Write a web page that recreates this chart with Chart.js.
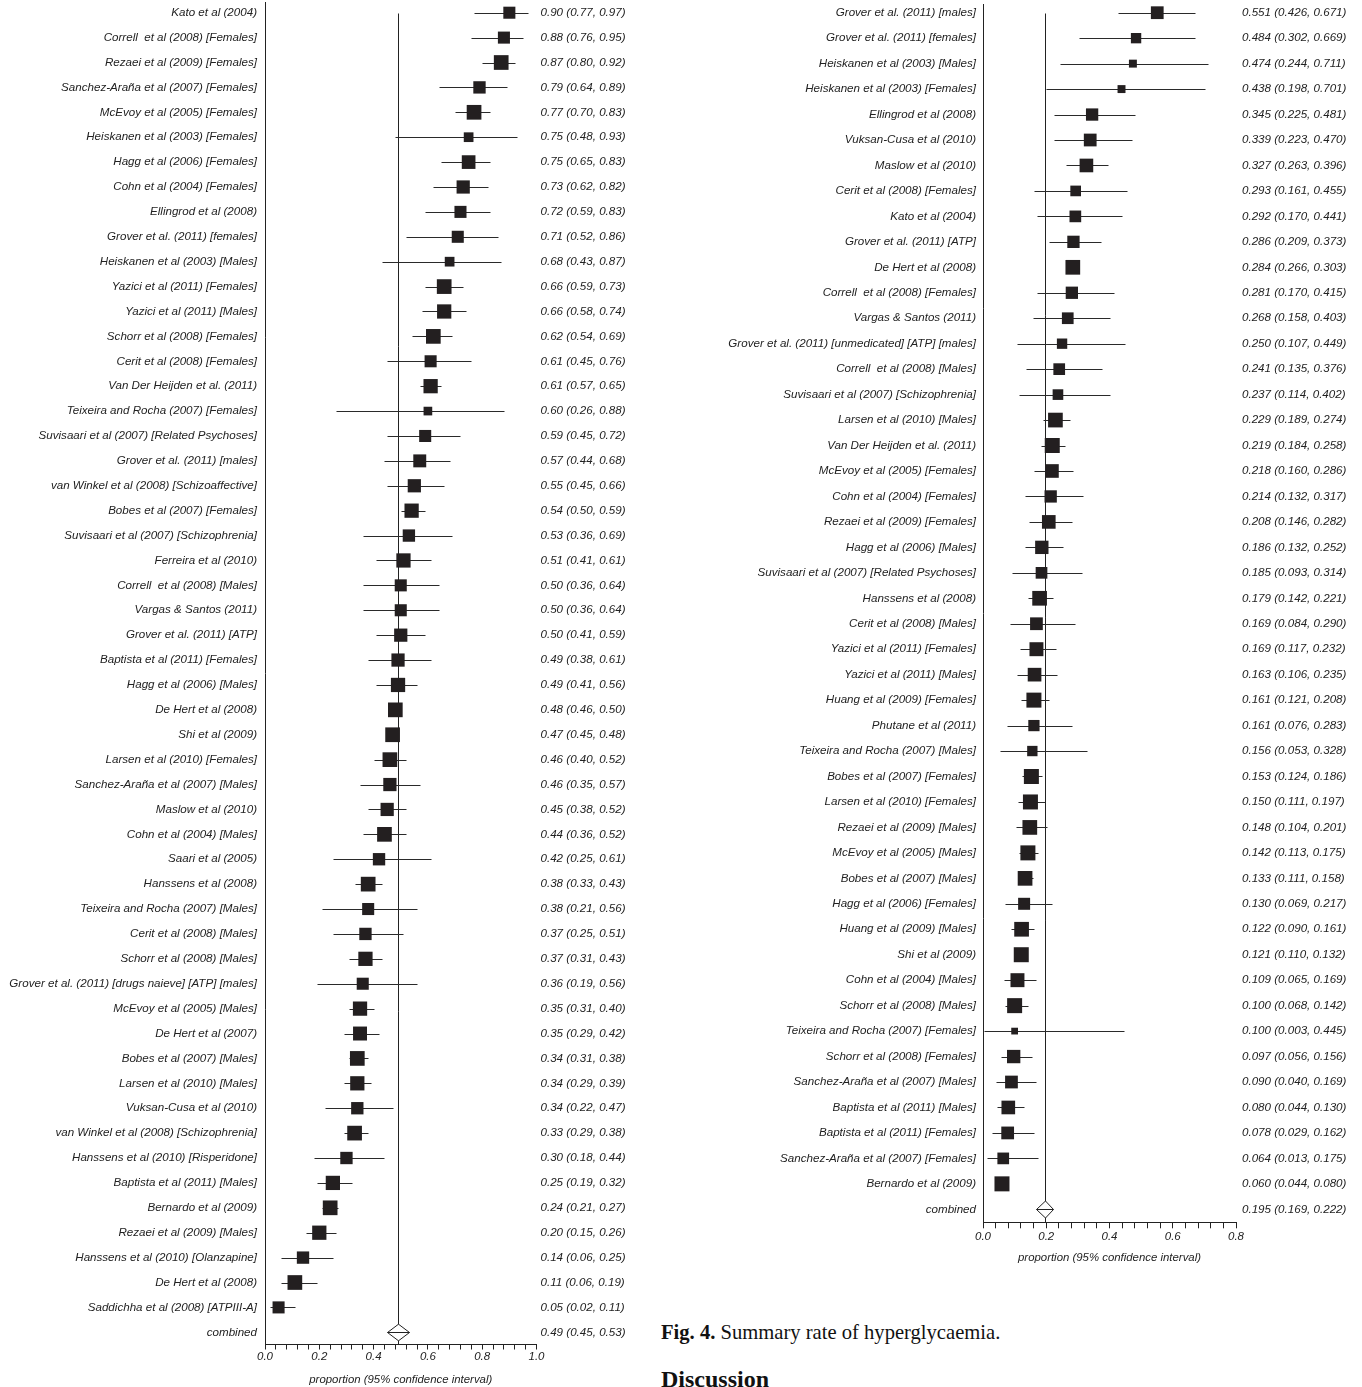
<!DOCTYPE html>
<html><head><meta charset="utf-8">
<script src="https://cdn.jsdelivr.net/npm/chart.js@4.4.0/dist/chart.umd.min.js"></script>
<style>
html,body{margin:0;padding:0;background:#fff;}
body{width:1362px;height:1387px;position:relative;overflow:hidden;}
canvas{position:absolute;top:0;}
#c1{left:0;width:655px;height:1387px;}
#c2{left:655px;width:707px;height:1265px;}
.cap{position:absolute;left:661px;font-family:'Liberation Serif','Times New Roman',serif;color:#111;white-space:nowrap;line-height:1;}
</style></head><body>
<canvas id="c1" width="655" height="1387"></canvas>
<canvas id="c2" width="707" height="1265"></canvas>
<div class="cap" style="top:1322px;font-size:20.6px"><b>Fig. 4.</b> Summary rate of hyperglycaemia.</div>
<div class="cap" style="top:1367px;font-size:24px;font-weight:bold">Discussion</div>
<script>
// ---------- LEFT PANEL DATA ----------
const leftLabels = [
 "Kato et al (2004)","Correll  et al (2008) [Females]","Rezaei et al (2009) [Females]","Sanchez-Araña et al (2007) [Females]",
 "McEvoy et al (2005) [Females]","Heiskanen et al (2003) [Females]","Hagg et al (2006) [Females]","Cohn et al (2004) [Females]",
 "Ellingrod et al (2008)","Grover et al. (2011) [females]","Heiskanen et al (2003) [Males]","Yazici et al (2011) [Females]",
 "Yazici et al (2011) [Males]","Schorr et al (2008) [Females]","Cerit et al (2008) [Females]","Van Der Heijden et al. (2011)",
 "Teixeira and Rocha (2007) [Females]","Suvisaari et al (2007) [Related Psychoses]","Grover et al. (2011) [males]",
 "van Winkel et al (2008) [Schizoaffective]","Bobes et al (2007) [Females]","Suvisaari et al (2007) [Schizophrenia]",
 "Ferreira et al (2010)","Correll  et al (2008) [Males]","Vargas & Santos (2011)","Grover et al. (2011) [ATP]",
 "Baptista et al (2011) [Females]","Hagg et al (2006) [Males]","De Hert et al (2008)","Shi et al (2009)",
 "Larsen et al (2010) [Females]","Sanchez-Araña et al (2007) [Males]","Maslow et al (2010)","Cohn et al (2004) [Males]",
 "Saari et al (2005)","Hanssens et al (2008)","Teixeira and Rocha (2007) [Males]","Cerit et al (2008) [Males]",
 "Schorr et al (2008) [Males]","Grover et al. (2011) [drugs naieve] [ATP] [males]","McEvoy et al (2005) [Males]",
 "De Hert et al (2007)","Bobes et al (2007) [Males]","Larsen et al (2010) [Males]","Vuksan-Cusa et al (2010)",
 "van Winkel et al (2008) [Schizophrenia]","Hanssens et al (2010) [Risperidone]","Baptista et al (2011) [Males]",
 "Bernardo et al (2009)","Rezaei et al (2009) [Males]","Hanssens et al (2010) [Olanzapine]","De Hert et al (2008)",
 "Saddichha et al (2008) [ATPIII-A]","combined"];
const leftEst = [0.90,0.88,0.87,0.79,0.77,0.75,0.75,0.73,0.72,0.71, 0.68,0.66,0.66,0.62,0.61,0.61,0.60,0.59,0.57,0.55,
 0.54,0.53,0.51,0.50,0.50,0.50,0.49,0.49,0.48,0.47, 0.46,0.46,0.45,0.44,0.42,0.38,0.38,0.37,0.37,0.36,
 0.35,0.35,0.34,0.34,0.34,0.33,0.30,0.25,0.24,0.20, 0.14,0.11,0.05,0.49];
const leftLo = [0.77,0.76,0.80,0.64,0.70,0.48,0.65,0.62,0.59,0.52, 0.43,0.59,0.58,0.54,0.45,0.57,0.26,0.45,0.44,0.45,
 0.50,0.36,0.41,0.36,0.36,0.41,0.38,0.41,0.46,0.45, 0.40,0.35,0.38,0.36,0.25,0.33,0.21,0.25,0.31,0.19,
 0.31,0.29,0.31,0.29,0.22,0.29,0.18,0.19,0.21,0.15, 0.06,0.06,0.02,0.45];
const leftHi = [0.97,0.95,0.92,0.89,0.83,0.93,0.83,0.82,0.83,0.86, 0.87,0.73,0.74,0.69,0.76,0.65,0.88,0.72,0.68,0.66,
 0.59,0.69,0.61,0.64,0.64,0.59,0.61,0.56,0.50,0.48, 0.52,0.57,0.52,0.52,0.61,0.43,0.56,0.51,0.43,0.56,
 0.40,0.42,0.38,0.39,0.47,0.38,0.44,0.32,0.27,0.26, 0.25,0.19,0.11,0.53];
// relative study weight (box size, 1 = largest box)
const leftWeight = [0.82,0.82,1,0.84,1,0.66,0.93,0.9,0.82,0.82, 0.66,1,0.97,1,0.82,0.97,0.59,0.82,0.88,0.9,
 0.97,0.84,0.97,0.82,0.82,0.9,0.9,0.97,1,1, 1,0.9,0.9,1,0.84,1,0.82,0.84,0.97,0.82,
 0.97,0.95,1,0.97,0.84,1,0.84,0.97,1,0.97, 0.84,1,0.82];
const leftTickLabels = ["0.0","0.2","0.4","0.6","0.8","1.0"];

// ---------- RIGHT PANEL DATA ----------
const rightLabels = [
 "Grover et al. (2011) [males]","Grover et al. (2011) [females]","Heiskanen et al (2003) [Males]","Heiskanen et al (2003) [Females]",
 "Ellingrod et al (2008)","Vuksan-Cusa et al (2010)","Maslow et al (2010)","Cerit et al (2008) [Females]","Kato et al (2004)",
 "Grover et al. (2011) [ATP]","De Hert et al (2008)","Correll  et al (2008) [Females]","Vargas & Santos (2011)",
 "Grover et al. (2011) [unmedicated] [ATP] [males]","Correll  et al (2008) [Males]","Suvisaari et al (2007) [Schizophrenia]",
 "Larsen et al (2010) [Males]","Van Der Heijden et al. (2011)","McEvoy et al (2005) [Females]","Cohn et al (2004) [Females]",
 "Rezaei et al (2009) [Females]","Hagg et al (2006) [Males]","Suvisaari et al (2007) [Related Psychoses]","Hanssens et al (2008)",
 "Cerit et al (2008) [Males]","Yazici et al (2011) [Females]","Yazici et al (2011) [Males]","Huang et al (2009) [Females]",
 "Phutane et al (2011)","Teixeira and Rocha (2007) [Males]","Bobes et al (2007) [Females]","Larsen et al (2010) [Females]",
 "Rezaei et al (2009) [Males]","McEvoy et al (2005) [Males]","Bobes et al (2007) [Males]","Hagg et al (2006) [Females]",
 "Huang et al (2009) [Males]","Shi et al (2009)","Cohn et al (2004) [Males]","Schorr et al (2008) [Males]",
 "Teixeira and Rocha (2007) [Females]","Schorr et al (2008) [Females]","Sanchez-Araña et al (2007) [Males]",
 "Baptista et al (2011) [Males]","Baptista et al (2011) [Females]","Sanchez-Araña et al (2007) [Females]",
 "Bernardo et al (2009)","combined"];
const rightEst = [0.551,0.484,0.474,0.438,0.345,0.339,0.327,0.293,0.292,0.286, 0.284,0.281,0.268,0.250,0.241,0.237,0.229,0.219,0.218,0.214,
 0.208,0.186,0.185,0.179,0.169,0.169,0.163,0.161,0.161,0.156, 0.153,0.150,0.148,0.142,0.133,0.130,0.122,0.121,0.109,0.100,
 0.100,0.097,0.090,0.080,0.078,0.064,0.060,0.195];
const rightLo = [0.426,0.302,0.244,0.198,0.225,0.223,0.263,0.161,0.170,0.209, 0.266,0.170,0.158,0.107,0.135,0.114,0.189,0.184,0.160,0.132,
 0.146,0.132,0.093,0.142,0.084,0.117,0.106,0.121,0.076,0.053, 0.124,0.111,0.104,0.113,0.111,0.069,0.090,0.110,0.065,0.068,
 0.003,0.056,0.040,0.044,0.029,0.013,0.044,0.169];
const rightHi = [0.671,0.669,0.711,0.701,0.481,0.470,0.396,0.455,0.441,0.373, 0.303,0.415,0.403,0.449,0.376,0.402,0.274,0.258,0.286,0.317,
 0.282,0.252,0.314,0.221,0.290,0.232,0.235,0.208,0.283,0.328, 0.186,0.197,0.201,0.175,0.158,0.217,0.161,0.132,0.169,0.142,
 0.445,0.156,0.169,0.130,0.162,0.175,0.080,0.222];
const rightWeight = [0.85,0.69,0.53,0.53,0.82,0.85,0.91,0.71,0.78,0.82, 0.98,0.82,0.78,0.69,0.78,0.71,0.98,1,0.91,0.82,
 0.91,0.89,0.78,0.98,0.85,0.93,0.91,1,0.75,0.69, 1,1,0.98,1,0.98,0.8,0.98,1,0.93,1,
 0.45,0.89,0.85,0.91,0.85,0.78,1];
const rightTickLabels = ["0.0","0.2","0.4","0.6","0.8"];

const axisTitle = "proportion (95% confidence interval)";

Chart.defaults.color = '#222';
Chart.defaults.font.family = "'Liberation Sans', Arial, Helvetica, sans-serif";
const INK = '#231f20';
const italic = (size) => ({family: "'Liberation Sans', Arial, Helvetica, sans-serif", size: size, style: 'italic', lineHeight: 1.2});

function buildPanel(canvasId, d, L) {
  const n = d.labels.length, last = n - 1;
  const pts = [];
  for (let i = 0; i < last; i++) pts.push({x: d.est[i], y: i});
  const ciText = d.est.map((e, i) => e.toFixed(d.dec) + ' (' + d.lo[i].toFixed(d.dec) + ', ' + d.hi[i].toFixed(d.dec) + ')');
  const tickVals = d.tickLabels.map(parseFloat);
  const xMax = tickVals[tickVals.length - 1];
  const minorStep = (tickVals[1] - tickVals[0]) / d.minorPerMajor;
  const rowTicks = () => d.labels.map((_, i) => ({value: i}));

  const forest = {
    id: 'forest_' + canvasId,
    beforeDatasetsDraw(chart) {
      const {ctx, chartArea} = chart;
      const xs = chart.scales.x, ys = chart.scales.y;
      const px = (v) => Math.round(xs.getPixelForValue(v)) + 0.5;
      const py = (i) => Math.round(ys.getPixelForValue(i)) + 0.5;
      ctx.save();
      ctx.strokeStyle = '#222';
      ctx.lineWidth = 1;
      // reference line at combined estimate
      ctx.beginPath();
      ctx.moveTo(px(d.est[last]), py(0));
      ctx.lineTo(px(d.est[last]), chartArea.bottom);
      ctx.stroke();
      // confidence intervals
      ctx.strokeStyle = '#2a2a2a';
      for (let i = 0; i < last; i++) {
        ctx.beginPath();
        ctx.moveTo(px(d.lo[i]), py(i));
        ctx.lineTo(px(d.hi[i]), py(i));
        ctx.stroke();
      }
      // combined diamond
      const yc = py(last);
      ctx.beginPath();
      ctx.moveTo(px(d.lo[last]), yc);
      ctx.lineTo(px(d.est[last]), yc - L.diamondHalf);
      ctx.lineTo(px(d.hi[last]), yc);
      ctx.lineTo(px(d.est[last]), yc + L.diamondHalf);
      ctx.closePath();
      ctx.fillStyle = '#fff';
      ctx.fill();
      ctx.strokeStyle = '#222';
      ctx.stroke();
      ctx.beginPath();
      ctx.moveTo(px(d.lo[last]), yc);
      ctx.lineTo(px(d.hi[last]), yc);
      ctx.stroke();
      ctx.restore();
    }
  };

  return new Chart(document.getElementById(canvasId), {
    type: 'scatter',
    data: {datasets: [{
      data: pts,
      pointStyle: 'rect',
      pointRadius: (c) => d.weight[c.dataIndex] * L.maxBox / Math.SQRT2,
      pointHoverRadius: (c) => d.weight[c.dataIndex] * L.maxBox / Math.SQRT2,
      backgroundColor: INK,
      borderWidth: 0,
      pointBorderWidth: 0,
      clip: false
    }]},
    options: {
      responsive: false,
      animation: false,
      events: [],
      layout: {autoPadding: false, padding: {top: L.top, left: 0, right: 0, bottom: 0}},
      plugins: {legend: {display: false}, tooltip: {enabled: false}},
      scales: {
        x: {
          type: 'linear', position: 'bottom', min: 0, max: xMax,
          afterBuildTicks: (s) => {
            const t = [];
            const cnt = Math.round(xMax / minorStep);
            for (let k = 0; k <= cnt; k++) t.push({value: +(k * minorStep).toFixed(4)});
            s.ticks = t;
          },
          afterFit: (s) => { s.height = L.xH; s.paddingLeft = 0; s.paddingRight = 0; },
          ticks: {
            autoSkip: false, maxRotation: 0, minRotation: 0, padding: L.xTickPad, color: '#222', font: italic(11.5),
            callback: (v) => {
              const j = tickVals.findIndex(t => Math.abs(t - v) < 1e-6);
              return j >= 0 ? d.tickLabels[j] : '';
            }
          },
          grid: {display: true, drawOnChartArea: false, drawTicks: true, tickLength: L.tickLen, color: '#222', lineWidth: 1},
          border: {display: true, color: '#222', width: 1},
          title: {display: true, text: axisTitle, font: italic(11.4), color: '#222', padding: {top: 0, bottom: L.titlePad}}
        },
        y: {
          type: 'linear', position: 'left', reverse: true, min: L.yMin, max: L.yMax,
          afterBuildTicks: (s) => { s.ticks = rowTicks(); },
          afterFit: (s) => { s.width = L.leftW; s.paddingTop = 0; s.paddingBottom = 0; },
          ticks: {autoSkip: false, padding: L.yPad, color: '#222', font: italic(11.6), callback: (v) => d.labels[v]},
          grid: {display: false, drawTicks: false},
          border: {display: true, color: '#222', width: 1}
        },
        y2: {
          type: 'linear', position: 'right', reverse: true, min: L.yMin, max: L.yMax,
          afterBuildTicks: (s) => { s.ticks = rowTicks(); },
          afterFit: (s) => { s.width = L.rightW; s.paddingTop = 0; s.paddingBottom = 0; },
          ticks: {autoSkip: false, padding: L.y2Pad, color: '#222', font: italic(11.6), callback: (v) => ciText[v]},
          grid: {display: false, drawTicks: false},
          border: {display: false}
        }
      }
    },
    plugins: [forest]
  });
}

buildPanel('c1',
  {labels: leftLabels, est: leftEst, lo: leftLo, hi: leftHi, weight: leftWeight, tickLabels: leftTickLabels, minorPerMajor: 5, dec: 2},
  {top: 2, leftW: 265, rightW: 655 - 536.5, xH: 1387 - 1344.5, yMin: -0.43, yMax: 53.49,
   tickLen: 5, xTickPad: 0, titlePad: 0, yPad: 8, y2Pad: 4, diamondHalf: 8.3, maxBox: 14.7});

buildPanel('c2',
  {labels: rightLabels, est: rightEst, lo: rightLo, hi: rightHi, weight: rightWeight, tickLabels: rightTickLabels, minorPerMajor: 5, dec: 3},
  {top: 4, leftW: 983 - 655, rightW: 1362 - 1236, xH: 1265 - 1222.3, yMin: -0.342, yMax: 47.51,
   tickLen: 6, xTickPad: 1.5, titlePad: 0, yPad: 7, y2Pad: 6, diamondHalf: 8.5, maxBox: 15});
</script>
</body></html>
